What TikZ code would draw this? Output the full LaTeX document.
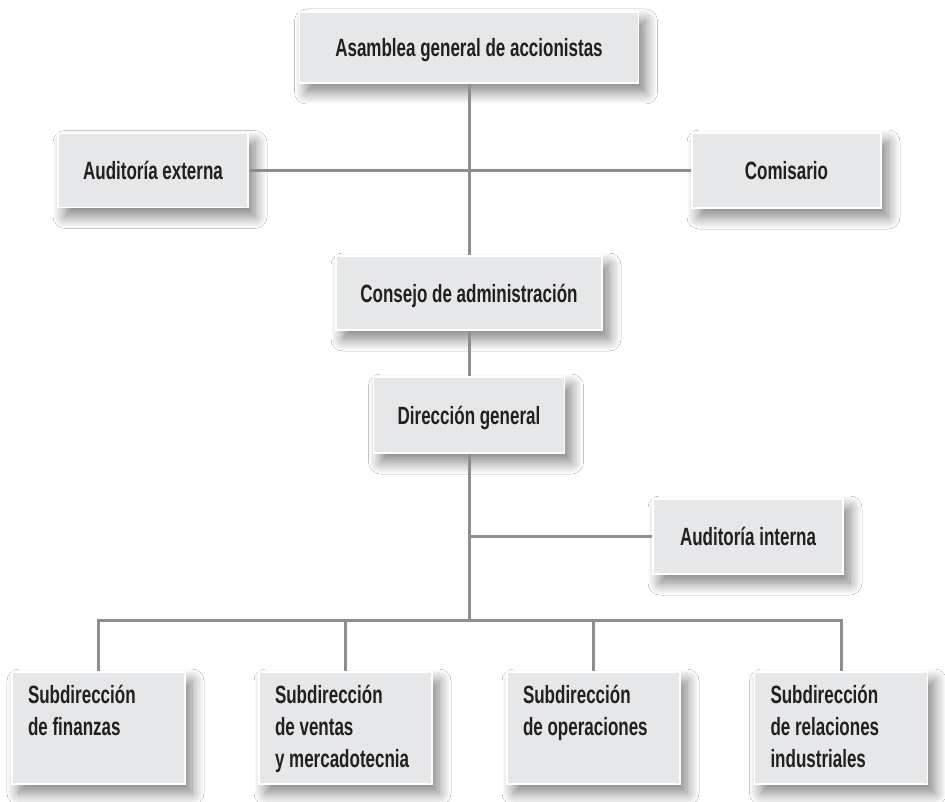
\documentclass[tikz,border=0pt]{standalone}
\usepackage{fontspec}
\setmainfont{Liberation Sans}[FakeStretch=0.68]
\usetikzlibrary{shadows.blur}
\definecolor{boxGray}{HTML}{E6E7E8}
\definecolor{lineGray}{HTML}{8D8E90}
\definecolor{inkBlack}{HTML}{231F20}
\tikzset{
  orgbox/.style={draw=white, line width=1.5pt, fill=boxGray, text=inkBlack,
    font=\bfseries\fontsize{25}{32}\selectfont, inner sep=0pt,
    text height=18pt, text depth=0pt,
    blur shadow={shadow xshift=7pt, shadow yshift=-9pt, shadow blur radius=12pt, shadow blur steps=12, shadow opacity=50}},
  subbox/.style={orgbox, minimum width=173pt, minimum height=112pt, text height=, text depth=},
  orgline/.style={draw=lineGray, line width=3pt}
}
\begin{document}
\begin{tikzpicture}[x=1pt, y=-1pt]
  \fill[white] (0,0) rectangle (945,802);
  \useasboundingbox (0,0) rectangle (945,802);

  \node[orgbox, minimum width=339pt, minimum height=71pt] (asamblea) at (469,47.5) {Asamblea general de accionistas};
  \node[orgbox, minimum width=190pt, minimum height=74pt] (audext) at (153,170.5) {Auditoría externa};
  \node[orgbox, minimum width=189pt, minimum height=75pt] (comisario) at (786.5,170.5) {Comisario};
  \node[orgbox, minimum width=266pt, minimum height=74pt] (consejo) at (469,293) {Consejo de administración};
  \node[orgbox, minimum width=191pt, minimum height=76pt] (direccion) at (469,415) {Dirección general};
  \node[orgbox, minimum width=190pt, minimum height=75pt] (audint) at (748,536.5) {Auditoría interna};

  \node[subbox] (subfin) at (98.5,728) {\parbox[c][112pt][t]{141pt}{\rule{0pt}{31pt}Subdirección\\de finanzas}};
  \node[subbox] (subven) at (345.5,728) {\parbox[c][112pt][t]{141pt}{\rule{0pt}{31pt}Subdirección\\de ventas\\y mercadotecnia}};
  \node[subbox] (subope) at (593.5,728) {\parbox[c][112pt][t]{141pt}{\rule{0pt}{31pt}Subdirección\\de operaciones}};
  \node[subbox] (subrel) at (841,728) {\parbox[c][112pt][t]{141pt}{\rule{0pt}{31pt}Subdirección\\de relaciones\\industriales}};

  \coordinate (bus) at (469,620);

  % connectors
  \draw[orgline] (asamblea.south) -- (consejo.north);
  \draw[orgline] (audext.east) -- (comisario.west);
  \draw[orgline] (consejo.south) -- (direccion.north);
  \draw[orgline] (direccion.south) -- (bus);
  \draw[orgline] (audint.west) -- (audint.west -| direccion.south);
  \draw[orgline] (subfin.north) |- (bus) -| (subrel.north);
  \draw[orgline] (subven.north) -- (subven.north |- bus);
  \draw[orgline] (subope.north) -- (subope.north |- bus);
\end{tikzpicture}
\end{document}
